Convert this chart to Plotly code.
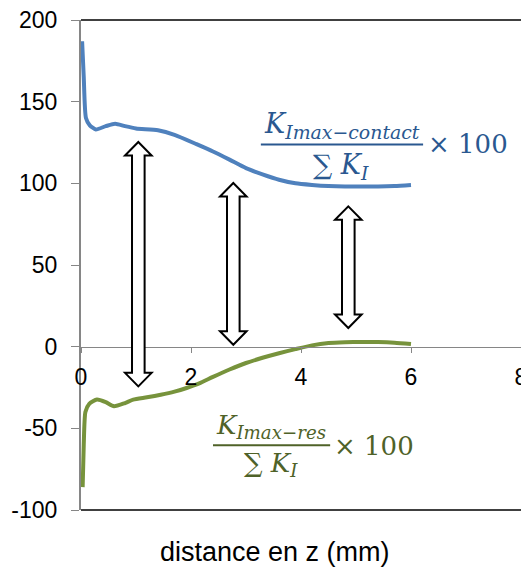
import plotly.graph_objects as go

# ---- data ----
contact_x = [0.02, 0.05, 0.09, 0.16, 0.27, 0.45, 0.62, 0.8, 1.0, 1.4, 1.7, 2.1, 2.4, 2.7,
             3.0, 3.3, 3.6, 3.9, 4.2, 4.5, 4.8, 5.1, 5.4, 5.7, 6.0]
contact_y = [187, 165, 140, 135.5, 133, 135, 136.5, 135, 133.6, 132.5, 129.7, 124, 119.5, 114.5,
             109.3, 105.5, 102.2, 100, 99, 98.3, 98, 98, 98, 98.3, 99]

res_x = [0.03, 0.05, 0.08, 0.15, 0.29, 0.45, 0.6, 0.8, 0.95, 1.2, 1.45, 1.7, 1.92, 2.15, 2.4,
         2.7, 3.0, 3.3, 3.6, 3.9, 4.2, 4.5, 4.8, 5.1, 5.4, 5.7, 6.0]
res_y = [-86, -60, -40, -35, -32.4, -34, -36.5, -34.5, -32.4, -31, -29.4, -27.5, -25.3, -22.5, -18.5,
         -14, -10, -6.8, -4, -1.5, 0.8, 2.2, 2.7, 2.9, 2.8, 2.4, 1.6]

x_ticks = [0, 2, 4, 6, 8]
x_tick_labels = ["0", "2", "4", "6", "8"]
y_ticks = [-100, -50, 0, 50, 100, 150, 200]
y_tick_labels = ["-100", "-50", "0", "50", "100", "150", "200"]
x_title = "distance en z (mm)"

BLUE = "#4F81BD"
GREEN = "#77933C"
BLUE_TXT = "#2A5890"
GREEN_TXT = "#4F6228"

fig = go.Figure()
fig.add_trace(go.Scatter(x=contact_x, y=contact_y, mode="lines",
                         line=dict(color=BLUE, width=4, shape="spline", smoothing=0.6),
                         showlegend=False, hoverinfo="skip"))
fig.add_trace(go.Scatter(x=res_x, y=res_y, mode="lines",
                         line=dict(color=GREEN, width=4, shape="spline", smoothing=0.6),
                         showlegend=False, hoverinfo="skip"))

# px -> data helpers (plot area: x 0..8 over 440px, y -100..200 over 490px)
PX_X = 440 / 8.0
PX_Y = 490 / 300.0


def double_arrow(cx, ytop, ybot, head_hw=13.3, shaft_hw=6.3, head_h=13.5):
    hw = head_hw / PX_X
    sw = shaft_hw / PX_X
    hh = head_h / PX_Y
    pts = [(cx, ytop), (cx + hw, ytop - hh), (cx + sw, ytop - hh), (cx + sw, ybot + hh),
           (cx + hw, ybot + hh), (cx, ybot), (cx - hw, ybot + hh), (cx - sw, ybot + hh),
           (cx - sw, ytop - hh), (cx - hw, ytop - hh)]
    path = "M " + " L ".join(f"{x:.4f},{y:.4f}" for x, y in pts) + " Z"
    return dict(type="path", path=path, xref="x", yref="y",
                line=dict(color="black", width=2), fillcolor="white", layer="above")


shapes = [
    double_arrow(1.042, 125.3, -24.3),
    double_arrow(2.769, 100.2, 1.2),
    double_arrow(4.86, 85.9, 11.4),
    # plot border top / bottom
    dict(type="line", xref="paper", yref="paper", x0=0, x1=1, y0=1, y1=1,
         line=dict(color="black", width=1.5)),
    dict(type="line", xref="paper", yref="paper", x0=0, x1=1, y0=0, y1=0,
         line=dict(color="black", width=1.5)),
    # fraction bars
    dict(type="line", xref="x", yref="y", x0=3.27, x1=6.22, y0=123.7, y1=123.7,
         line=dict(color=BLUE_TXT, width=2)),
    dict(type="line", xref="x", yref="y", x0=2.40, x1=4.53, y0=-60.4, y1=-60.4,
         line=dict(color=GREEN_TXT, width=2)),
]

SERIF = "DejaVu Serif"
annotations = [
    dict(x=4.745, y=135.5, xref="x", yref="y", showarrow=False,
         text="<i>K</i><sub><i>Imax−contact</i></sub>",
         font=dict(family=SERIF, size=27, color=BLUE_TXT)),
    dict(x=4.72, y=110.5, xref="x", yref="y", showarrow=False,
         text="∑ <i>K</i><sub><i>I</i></sub>",
         font=dict(family=SERIF, size=27, color=BLUE_TXT)),
    dict(x=7.04, y=124.3, xref="x", yref="y", showarrow=False,
         text="× 100", font=dict(family=SERIF, size=26, color=BLUE_TXT)),
    dict(x=3.45, y=-49, xref="x", yref="y", showarrow=False,
         text="<i>K</i><sub><i>Imax−res</i></sub>",
         font=dict(family=SERIF, size=26, color=GREEN_TXT)),
    dict(x=3.45, y=-72.3, xref="x", yref="y", showarrow=False,
         text="∑ <i>K</i><sub><i>I</i></sub>",
         font=dict(family=SERIF, size=26, color=GREEN_TXT)),
    dict(x=5.33, y=-60.6, xref="x", yref="y", showarrow=False,
         text="× 100", font=dict(family=SERIF, size=26, color=GREEN_TXT)),
    dict(x=0.441, y=-0.0857, xref="paper", yref="paper", showarrow=False,
         text=x_title, yanchor="middle",
         font=dict(family="Liberation Sans, Arial", size=27, color="black")),
]

fig.update_layout(
    width=521, height=567,
    margin=dict(l=81, r=0, t=20, b=57, autoexpand=False),
    plot_bgcolor="white", paper_bgcolor="white",
    shapes=shapes, annotations=annotations,
    font=dict(family="Liberation Sans, Arial", size=23, color="black"),
    xaxis=dict(range=[0, 8], tickvals=x_ticks, ticktext=x_tick_labels, ticks="outside",
               ticklen=5, tickcolor="#868686", showline=True, linecolor="#868686", linewidth=1,
               showgrid=False, zeroline=False, anchor="free", position=1/3,
               ticklabelstandoff=5, ticklabeloverflow="allow", automargin=False,
               fixedrange=True),
    yaxis=dict(range=[-100, 200], tickvals=y_ticks, ticktext=y_tick_labels, ticks="outside",
               ticklen=8, tickcolor="#868686", showline=True, linecolor="#868686", linewidth=2,
               showgrid=False, zeroline=False, ticklabelstandoff=9, automargin=False,
               fixedrange=True),
)

fig.write_html("out.html", config={"displayModeBar": False},
               post_script="document.body.style.margin='0';document.body.style.overflow='hidden';")
